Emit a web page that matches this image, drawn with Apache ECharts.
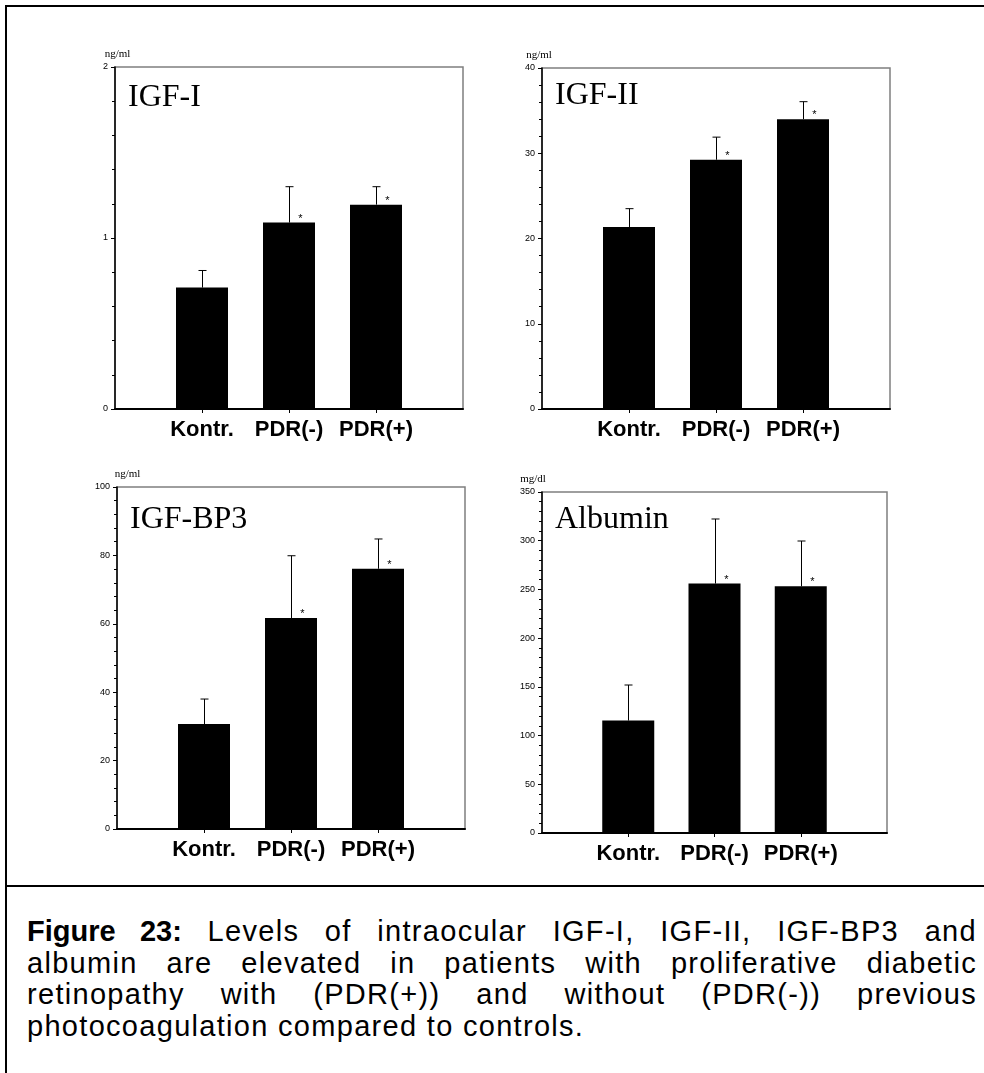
<!DOCTYPE html>
<html>
<head>
<meta charset="utf-8">
<title>Figure 23</title>
<script src="https://cdn.jsdelivr.net/npm/echarts@6/dist/echarts.min.js"></script>
<style>
  html, body { margin: 0; padding: 0; background: #fff; }
  #frame {
    position: absolute; left: 5px; top: 5px; width: 979px; height: 1068px;
    border-left: 2px solid #000; border-top: 2px solid #000;
  }
  #chart { position: absolute; left: 0; top: 0; width: 984px; height: 884px; }
  #sep { position: absolute; left: 5px; top: 885px; width: 979px; height: 2px; background: #000; }
  #caption {
    position: absolute; left: 27px; top: 916px; width: 950px;
    font-family: 'Liberation Sans', Arial, sans-serif; font-size: 29px;
    letter-spacing: 1.3px; line-height: 31.7px; color: #000;
  }
  #caption b { letter-spacing: 0; }
  #caption div { text-align: justify; text-align-last: justify; white-space: nowrap; }
  #caption div.last { text-align-last: left; }
</style>
</head>
<body>
<div id="frame"></div>
<div id="chart"></div>
<div id="sep"></div>
<div id="caption">
  <div><b>Figure 23:</b> Levels of intraocular IGF-I, IGF-II, IGF-BP3 and</div>
  <div>albumin are elevated in patients with proliferative diabetic</div>
  <div>retinopathy with (PDR(+)) and without (PDR(-)) previous</div>
  <div class="last">photocoagulation compared to controls.</div>
</div>
<script>
// groups on the x axis
const categories = ['Kontr.', 'PDR(-)', 'PDR(+)'];
// significance vs. controls (*)
const significant = [false, true, true];

// panel names and units
const panelNames = ['IGF-I', 'IGF-II', 'IGF-BP3', 'Albumin'];
const units = ['ng/ml', 'ng/ml', 'ng/ml', 'mg/dl'];

// means and error (upper SD)
const igf1Mean = [0.71, 1.09, 1.195];
const igf1Err = [0.10, 0.21, 0.105];
const igf2Mean = [21.35, 29.24, 34.0];
const igf2Err = [2.15, 2.65, 2.05];
const bp3Mean = [30.7, 61.7, 76.1];
const bp3Err = [7.3, 18.2, 8.7];
const albMean = [115.4, 256.0, 253.2];
const albErr = [36.5, 66.3, 46.5];

// y axis ranges
const yMax = [2, 40, 100, 350];
const yStep = [1, 10, 20, 50];

const means = [igf1Mean, igf2Mean, bp3Mean, albMean];
const errs = [igf1Err, igf2Err, bp3Err, albErr];

// layout of the four panels (pixels)
const panels = [
  { left: 115, top: 67, width: 348, height: 342, title: [128, 82], nameShift: 5 },
  { left: 542, top: 68, width: 348, height: 341, title: [555, 80], nameShift: -6 },
  { left: 117, top: 487, width: 348, height: 342, title: [130, 504], nameShift: 21 },
  { left: 542, top: 492, width: 345, height: 341, title: [555, 504], nameShift: -18 }
];

const serif = "'Liberation Serif', 'Times New Roman', serif";
const sans = "'Liberation Sans', Arial, sans-serif";

const chart = echarts.init(document.getElementById('chart'), null, { renderer: 'canvas' });

const grid = [], xAxis = [], yAxis = [], title = [], series = [];

panels.forEach((p, i) => {
  grid.push({
    left: p.left, top: p.top, width: p.width, height: p.height,
    show: true, borderColor: '#7f7f7f', borderWidth: 1.5, backgroundColor: 'transparent'
  });

  title.push({
    text: panelNames[i], left: p.title[0], top: p.title[1], padding: 0,
    textStyle: { fontFamily: serif, fontSize: 32, fontWeight: 'normal', color: '#000' }
  });

  xAxis.push({
    gridIndex: i,
    type: 'category',
    data: [''].concat(categories, ['']),
    boundaryGap: false,
    axisLine: { lineStyle: { color: '#000', width: 2 } },
    axisTick: { show: true, length: 4, interval: (idx) => idx > 0 && idx <= categories.length, lineStyle: { color: '#000' } },
    axisLabel: { interval: 0, fontSize: 22, fontWeight: 'bold', fontFamily: sans, color: '#000', margin: 10 },
    splitLine: { show: false }
  });

  const shift = p.nameShift;
  yAxis.push({
    gridIndex: i,
    type: 'value',
    min: 0,
    max: yMax[i],
    interval: yStep[i],
    name: units[i],
    nameLocation: 'end',
    nameGap: 7,
    nameTextStyle: {
      fontFamily: serif, fontSize: 11, color: '#000',
      padding: shift >= 0 ? [0, 0, 0, shift] : [0, -shift, 0, 0]
    },
    axisLine: { show: true, lineStyle: { color: '#000', width: 1.5 } },
    axisTick: { show: true, length: 4, lineStyle: { color: '#000' } },
    minorTick: { show: true, splitNumber: 5, length: 3, lineStyle: { color: '#000' } },
    axisLabel: { fontSize: 9, fontFamily: sans, color: '#000', margin: 7 },
    splitLine: { show: false }
  });

  series.push({
    type: 'bar',
    xAxisIndex: i,
    yAxisIndex: i,
    barWidth: 52,
    itemStyle: { color: '#000' },
    data: means[i].map((v, k) => [k + 1, v]),
    z: 2
  });

  series.push({
    type: 'custom',
    xAxisIndex: i,
    yAxisIndex: i,
    z: 3,
    data: means[i].map((v, k) => [k + 1, v, errs[i][k], significant[k] ? 1 : 0]),
    renderItem: function (params, api) {
      const x = api.value(0), m = api.value(1), e = api.value(2), star = api.value(3);
      const base = api.coord([x, m]);
      const top = api.coord([x, m + e]);
      const cx = Math.round(base[0]) + 0.5;
      const children = [
        { type: 'line', shape: { x1: cx, y1: base[1], x2: cx, y2: top[1] }, style: { stroke: '#000', lineWidth: 1 } },
        { type: 'line', shape: { x1: cx - 4, y1: top[1], x2: cx + 4, y2: top[1] }, style: { stroke: '#000', lineWidth: 1 } }
      ];
      if (star) {
        children.push({
          type: 'text', x: cx + 11, y: base[1] - 4,
          style: { text: '*', fontSize: 11, fontFamily: sans, fill: '#000', align: 'center', verticalAlign: 'middle' }
        });
      }
      return { type: 'group', children: children };
    }
  });
});

chart.setOption({
  backgroundColor: 'transparent',
  animation: false,
  title: title,
  grid: grid,
  xAxis: xAxis,
  yAxis: yAxis,
  series: series
});
</script>
</body>
</html>
